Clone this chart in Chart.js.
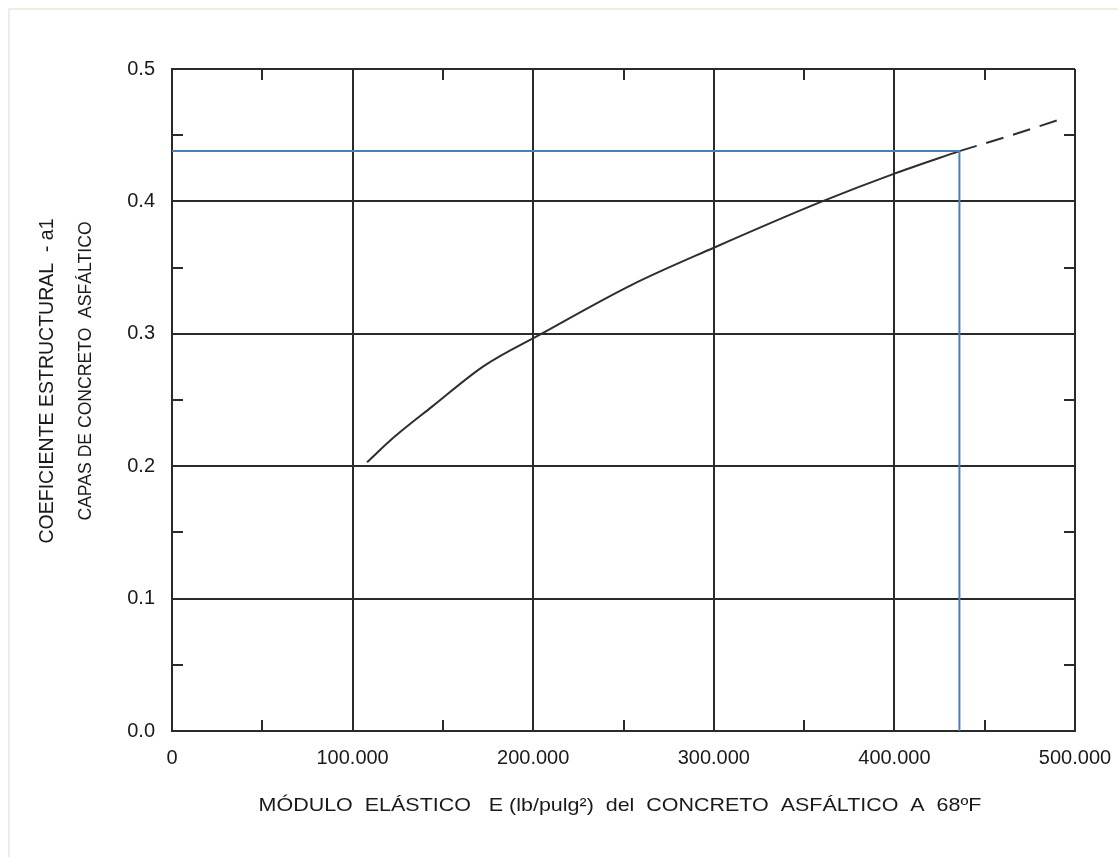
<!DOCTYPE html>
<html>
<head>
<meta charset="utf-8">
<script src="https://cdn.jsdelivr.net/npm/chart.js@4"></script>
<style>
  body { margin: 0; background: #fff; overflow: hidden; }
  #frame { position: absolute; left: 8px; top: 8px; width: 1200px; height: 1000px;
           border-left: 2px solid #ededE4; border-top: 2px solid #ededE4; }
  #wrap { position: absolute; left: 0; top: 0; width: 1118px; height: 857px; }
</style>
</head>
<body>
<div id="frame"></div>
<div id="wrap"><canvas id="myChart"></canvas></div>
<script>
// curve: E (lb/pulg2) vs a1
const modulo = [108000, 123000, 144000, 173000, 204500, 254600, 300000, 360000, 400000, 436000];
const coef = [0.203, 0.222, 0.245, 0.276, 0.300, 0.337, 0.365, 0.400, 0.421, 0.438];
// dashed extension
const moduloExt = [436000, 465000, 492000];
const coefExt = [0.438, 0.450, 0.462];
// blue reading line
const lecturaX = [0, 436000, 436000];
const lecturaY = [0.438, 0.438, 0.0];

const xTicksMinor = [50000, 150000, 250000, 350000, 450000];
const yTicksMinor = [0.05, 0.15, 0.25, 0.35, 0.45];

const tituloY1 = "COEFICIENTE ESTRUCTURAL  - a1";
const tituloY2 = "CAPAS DE CONCRETO  ASFÁLTICO";
const tituloX = "MÓDULO  ELÁSTICO   E (lb/pulg²)  del  CONCRETO  ASFÁLTICO  A  68ºF";

const pts = (xs, ys) => xs.map((x, i) => ({x: x, y: ys[i]}));
const fam = "'Liberation Sans', Arial, sans-serif";

const extras = {
  id: "extras",
  afterDatasetsDraw(chart) {
    const ctx = chart.ctx;
    const a = chart.chartArea;
    const sx = chart.scales.x, sy = chart.scales.y;
    ctx.save();
    ctx.strokeStyle = "#2a2a2a";
    ctx.lineWidth = 2;
    xTicksMinor.forEach(v => {
      const px = Math.round(sx.getPixelForValue(v));
      ctx.beginPath();
      ctx.moveTo(px, a.bottom); ctx.lineTo(px, a.bottom - 11);
      ctx.moveTo(px, a.top); ctx.lineTo(px, a.top + 11);
      ctx.stroke();
    });
    yTicksMinor.forEach(v => {
      const py = Math.round(sy.getPixelForValue(v));
      ctx.beginPath();
      ctx.moveTo(a.left, py); ctx.lineTo(a.left + 11, py);
      ctx.moveTo(a.right, py); ctx.lineTo(a.right - 11, py);
      ctx.stroke();
    });
    ctx.fillStyle = "#1a1a1a";
    ctx.textAlign = "center";
    ctx.textBaseline = "middle";
    // x title, slightly wide like the scanned original
    ctx.save();
    ctx.translate(620, 806);
    ctx.scale(1.13, 1);
    ctx.font = "19px " + fam;
    ctx.fillText(tituloX, 0, 0);
    ctx.restore();
    ctx.translate(48, 381);
    ctx.rotate(-Math.PI / 2);
    ctx.font = "19.5px " + fam;
    ctx.fillText(tituloY1, 0, 0);
    ctx.font = "17.6px " + fam;
    ctx.fillText(tituloY2, 10, 38);
    ctx.restore();
  }
};

new Chart("myChart", {
  type: "line",
  data: {
    datasets: [{
      data: pts(lecturaX, lecturaY),
      borderColor: "#4a7ebb",
      borderWidth: 2,
      pointRadius: 0,
      tension: 0
    }, {
      data: pts(modulo, coef),
      borderColor: "#2e2e2e",
      borderWidth: 2,
      pointRadius: 0,
      cubicInterpolationMode: "monotone"
    }, {
      data: pts(moduloExt, coefExt),
      borderColor: "#2e2e2e",
      borderWidth: 2,
      borderDash: [18, 10],
      pointRadius: 0,
      tension: 0
    }]
  },
  options: {
    responsive: true,
    maintainAspectRatio: false,
    animation: false,
    layout: { padding: { top: 69, right: 43, left: 0, bottom: 0 } },
    plugins: { legend: { display: false }, tooltip: { enabled: false } },
    scales: {
      x: {
        type: "linear",
        min: 0, max: 500000,
        afterFit: s => { s.height = 126; s.paddingLeft = 0; s.paddingRight = 0; },
        grid: { color: "#2a2a2a", lineWidth: 2, drawTicks: false },
        border: { color: "#2a2a2a", width: 2 },
        ticks: {
          stepSize: 100000,
          padding: 15,
          color: "#1a1a1a",
          font: { size: 20, family: fam },
          maxRotation: 0,
          callback: v => String(v).replace(/\B(?=(\d{3})+(?!\d))/g, ".")
        }
      },
      y: {
        type: "linear",
        min: 0, max: 0.5,
        afterFit: s => { s.width = 172; s.paddingTop = 0; s.paddingBottom = 0; },
        grid: { color: "#2a2a2a", lineWidth: 2, drawTicks: false },
        border: { color: "#2a2a2a", width: 2 },
        ticks: {
          stepSize: 0.1,
          padding: 17,
          color: "#1a1a1a",
          font: { size: 20, family: fam },
          callback: v => v.toFixed(1)
        }
      }
    }
  },
  plugins: [extras]
});
</script>
</body>
</html>
